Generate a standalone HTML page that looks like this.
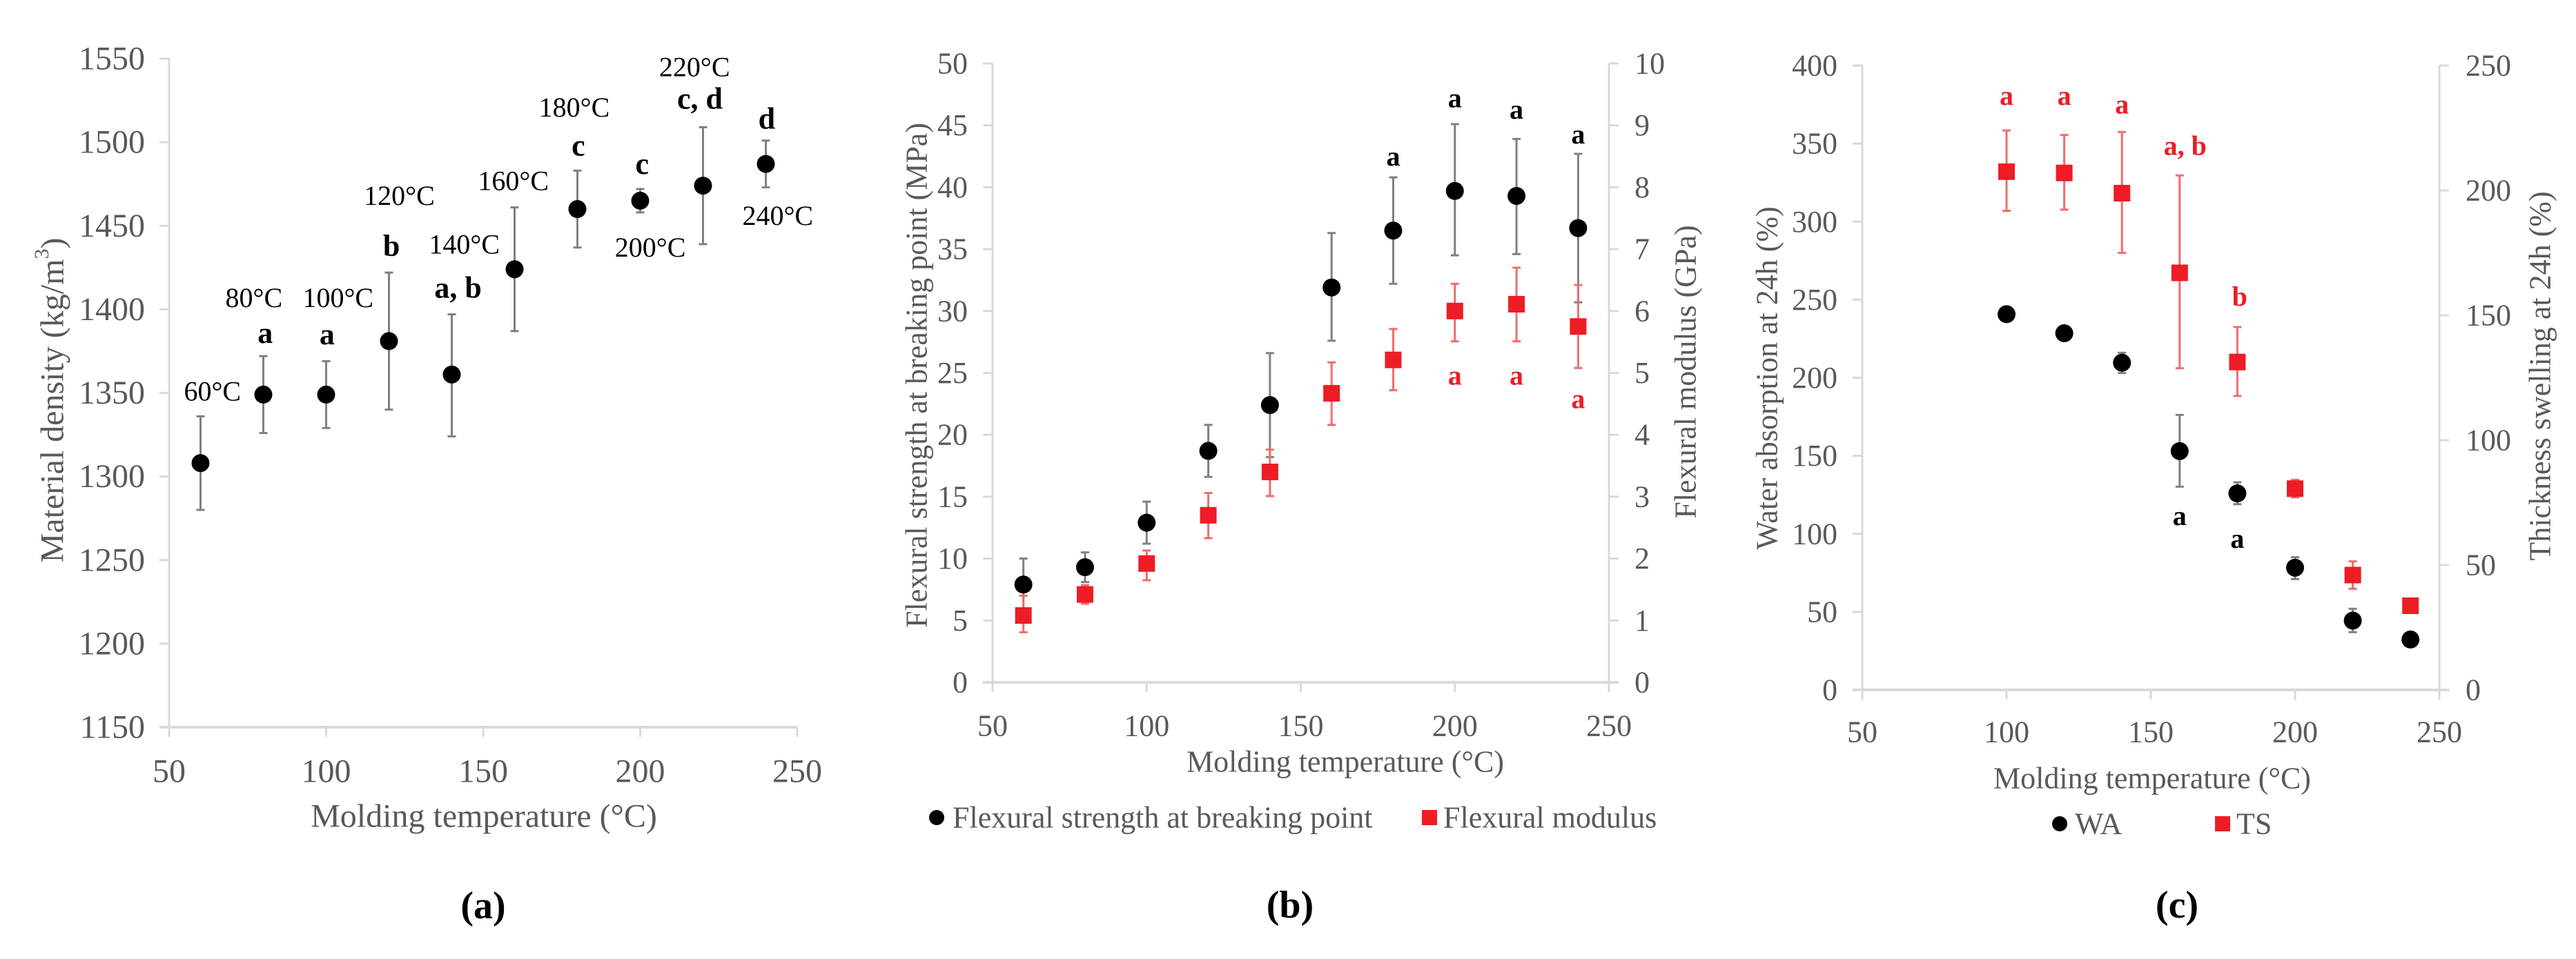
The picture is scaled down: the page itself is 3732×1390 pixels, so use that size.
<!DOCTYPE html>
<html><head><meta charset="utf-8"><style>
html,body{margin:0;padding:0;background:#fff}
svg{display:block;font-family:"Liberation Serif","Times New Roman",serif}
svg text{font-family:"Liberation Serif","Times New Roman",serif}
</style></head><body>
<svg id="fig" width="3732" height="1390" viewBox="0 0 3732 1390" font-family="Liberation Serif, serif"></svg>
<script>
// ---------- Panel (a) data ----------
const tempsA = [60,80,100,120,140,160,180,200,220,240];
const densityA = [1308,1349,1349,1381,1361,1424,1460,1465,1474,1487];
const densityHiA = [1336,1372,1369,1422,1397,1461,1483,1472,1509,1501];
const densityLoA = [1280,1326,1329,1340,1324,1387,1437,1458,1439,1473];
const annTextA = ["60°C","80°C","a","100°C","a","120°C","b","140°C","a, b","160°C","180°C","c","200°C","c","220°C","c, d","240°C","d"];
const annXA = [63.8,77,80.6,103.8,100.3,123.3,120.8,144,142,159.6,179,180.3,203.2,200.6,217.3,219,243.8,240.3];
const annYA = [1351,1407,1386,1407,1385,1468,1438,1439,1413,1477,1521,1498,1437,1487,1545,1526,1456,1514];
const xTicksA = [50,100,150,200,250];
const yTicksA = [1150,1200,1250,1300,1350,1400,1450,1500,1550];

// ---------- Panel (b) data ----------
const tempsB = [60,80,100,120,140,160,180,200,220,240];
const strengthB = [7.9,9.3,12.9,18.7,22.4,31.9,36.5,39.7,39.3,36.7];
const strengthHiB = [10.0,10.5,14.6,20.8,26.6,36.3,40.8,45.1,43.9,42.7];
const strengthLoB = [5.8,8.1,11.2,16.6,18.2,27.6,32.2,34.5,34.6,30.7];
const modulusB = [1.08,1.42,1.92,2.7,3.4,4.67,5.21,6.0,6.11,5.75];
const modulusHiB = [1.4,1.57,2.13,3.06,3.76,5.17,5.71,6.44,6.7,6.42];
const modulusLoB = [0.81,1.27,1.65,2.33,3.01,4.16,4.72,5.51,5.51,5.08];
const strengthLabelX = [180,200,220,240];
const strengthLabelY = [42.5,47.2,46.3,44.3];
const modulusLabelX = [200,220,240];
const modulusLabelY = [24.8,24.8,22.9];
const yTicksBL = [0,5,10,15,20,25,30,35,40,45,50];
const yTicksBR = [0,1,2,3,4,5,6,7,8,9,10];

// ---------- Panel (c) data ----------
const tempsC = [100,120,140,160,180,200,220,240];
const waC = [240.7,228.5,209.6,153,125.9,78.3,44.4,32.3];
const waHiC = [243,231,216,176.2,133,85,52,35];
const waLoC = [238,226,203,130.2,119,71,37,29.5];
const tsC = [207.5,207,198.9,167,131.3,80.6,46,33.7];
const tsHiC = [224,222.2,223.4,206,145.3,84.1,51.5,34.7];
const tsLoC = [191.8,192.3,175,128.8,117.7,77.1,40.5,32.7];
const tsLabelText = ["a","a","a","a, b","b"];
const tsLabelX = [100,120,140,161.9,180.8];
const tsLabelY = [238,238,234.5,218,157.6];
const waLabelText = ["a","a"];
const waLabelX = [160,180];
const waLabelY = [111.7,97];
const yTicksCL = [0,50,100,150,200,250,300,350,400];
const yTicksCR = [0,50,100,150,200,250];

const svg = document.getElementById('fig');
const NS = 'http://www.w3.org/2000/svg';
const FF = '"Liberation Serif", "Times New Roman", serif';
function mk(tag, attrs, parent){
  const e = document.createElementNS(NS, tag);
  for (const k in attrs) e.setAttribute(k, attrs[k]);
  (parent||svg).appendChild(e);
  return e;
}
function txt(s, x, y, size, fill, anchor, weight, parent){
  const t = mk('text', {x:x, y:y, 'font-size':size, fill:fill, 'text-anchor':anchor||'middle', 'dominant-baseline':'central', 'font-weight':weight||'normal'}, parent);
  t.style.fontFamily = FF;
  t.textContent = s;
  return t;
}
const AX = '#d9d9d9', TK = '#595959', RED = '#ee1c25';

function axes(g, x0, x1, y0, y1, xTicks, xs, yTicks, ys, fs, tickLabelY, leftLabelX, yTicksR, ysR, rightLabelX){
  const ya = mk('line', {x1:x0, y1:y0, x2:x0, y2:y1, stroke:AX, 'stroke-width':3}, g);
  
  
  const xa = mk('line', {x1:x0-14, y1:y0, x2:x1+ (yTicksR?14:0), y2:y0, stroke:AX, 'stroke-width':4}, g);
  
  
  xTicks.forEach(v=>{
    const X = xs(v);
    mk('line', {x1:X, y1:y0, x2:X, y2:y0+14, stroke:AX, 'stroke-width':3}, g);
    const t = txt(v, X, tickLabelY, fs, TK, 'middle', 'normal', g);
    
    
  });
  yTicks.forEach(v=>{
    const Y = ys(v);
    mk('line', {x1:x0-14, y1:Y, x2:x0, y2:Y, stroke:AX, 'stroke-width':3}, g);
    const t = txt(v, leftLabelX, Y, fs, TK, 'end', 'normal', g);
    
    
  });
  if (yTicksR){
    mk('line', {x1:x1, y1:y0, x2:x1, y2:y1, stroke:AX, 'stroke-width':3}, g);
    yTicksR.forEach(v=>{
      const Y = ysR(v);
      mk('line', {x1:x1, y1:Y, x2:x1+14, y2:Y, stroke:AX, 'stroke-width':3}, g);
      const t = txt(v, rightLabelX, Y, fs, TK, 'start', 'normal', g);
      
      
    });
  }
}
function errbar(g, X, Yhi, Ylo, color){
  mk('line', {x1:X, y1:Yhi, x2:X, y2:Ylo, stroke:color, 'stroke-width':3}, g);
  mk('line', {x1:X-6, y1:Yhi, x2:X+6, y2:Yhi, stroke:color, 'stroke-width':3}, g);
  mk('line', {x1:X-6, y1:Ylo, x2:X+6, y2:Ylo, stroke:color, 'stroke-width':3}, g);
}
function dot(g, X, Y){
  const c = mk('circle', {cx:X, cy:Y, r:13, fill:'#000'}, g);
  
  
}
function sq(g, X, Y){
  const r = mk('rect', {x:X-12, y:Y-12, width:24, height:24, fill:RED}, g);
  
  
}
function rotTitle(g, s, x, y, fs, name){
  const t = mk('text', {x:0, y:0, 'font-size':fs, fill:TK, 'text-anchor':'middle', 'dominant-baseline':'central', transform:`translate(${x},${y}) rotate(-90)`}, g);
  t.style.fontFamily = FF;
  t.textContent = s;
  
  
  return t;
}

// ===== Panel A =====
(function(){
  const g = mk('g', {});
  
  
  const x0=245, x1=1155, yB=1054, yT=85;
  const xs = v => x0 + (v-50)/200*(x1-x0);
  const ys = v => yB - (v-1150)/400*(yB-yT);
  axes(g, x0, x1, yB, yT, xTicksA, xs, yTicksA, ys, 48, 1118, 210);
  tempsA.forEach((t,i)=>{ errbar(g, xs(t), ys(densityHiA[i]), ys(densityLoA[i]), '#808080'); });
  tempsA.forEach((t,i)=>{ dot(g, xs(t), ys(densityA[i])); });
  annTextA.forEach((s,i)=>{
    const bold = !s.includes('°');
    const t = txt(s, xs(annXA[i]), ys(annYA[i]), bold?44:40, '#000', 'middle', bold?'bold':'normal', g);
    
    
  });
  const xt = txt('Molding temperature (°C)', 701, 1183, 48, TK, 'middle', 'normal', g);
  
  
  const yt = rotTitle(g, '', 76, 580, 48, 'y-axis-title');
  yt.textContent = 'Material density (kg/m';
  const sup = mk('tspan', {'font-size':30, dy:-16}, yt); sup.textContent='3';
  const cl = mk('tspan', {dy:16}, yt); cl.textContent=')';
  const cap = txt('(a)', 700, 1313, 56, '#000', 'middle', 'bold', g);
  
  
})();

// ===== Panel B =====
(function(){
  const g = mk('g', {});
  
  
  const x0=1438, x1=2331, yB=989, yT=92;
  const xs = v => x0 + (v-50)/200*(x1-x0);
  const ys = v => yB - v/50*(yB-yT);
  const ysR = v => yB - v/10*(yB-yT);
  axes(g, x0, x1, yB, yT, xTicksA, xs, yTicksBL, ys, 44, 1052, 1402, yTicksBR, ysR, 2368);
  tempsB.forEach((t,i)=>{ errbar(g, xs(t), ys(strengthHiB[i]), ys(strengthLoB[i]), '#808080'); });
  tempsB.forEach((t,i)=>{ dot(g, xs(t), ys(strengthB[i])); });
  tempsB.forEach((t,i)=>{ errbar(g, xs(t), ysR(modulusHiB[i]), ysR(modulusLoB[i]), '#f26b6b'); });
  tempsB.forEach((t,i)=>{ sq(g, xs(t), ysR(modulusB[i])); });
  strengthLabelX.forEach((x,i)=>{
    const t = txt('a', xs(x), ys(strengthLabelY[i]), 40, '#000', 'middle', 'bold', g);
    
    
  });
  modulusLabelX.forEach((x,i)=>{
    const t = txt('a', xs(x), ys(modulusLabelY[i]), 40, RED, 'middle', 'bold', g);
    
    
  });
  const xt = txt('Molding temperature (°C)', 1949, 1104, 44, TK, 'middle', 'normal', g);
  
  
  rotTitle(g, 'Flexural strength at breaking point (MPa)', 1328, 544, 44, 'y-axis-title-left');
  rotTitle(g, 'Flexural modulus (GPa)', 2442, 539, 44, 'y-axis-title-right');
  const l1 = mk('g', {}, g);
  
  
  mk('circle', {cx:1357, cy:1185, r:11, fill:'#000'}, l1);
  txt('Flexural strength at breaking point', 1380, 1185, 44, TK, 'start', 'normal', l1);
  const l2 = mk('g', {}, g);
  
  
  mk('rect', {x:2060, y:1174, width:22, height:22, fill:RED}, l2);
  txt('Flexural modulus', 2091, 1185, 44, TK, 'start', 'normal', l2);
  const cap = txt('(b)', 1869, 1312, 56, '#000', 'middle', 'bold', g);
  
  
})();

// ===== Panel C =====
(function(){
  const g = mk('g', {});
  
  
  const x0=2698, x1=3534, yB=1000, yT=95;
  const xs = v => x0 + (v-50)/200*(x1-x0);
  const ys = v => yB - v/400*(yB-yT);
  const ysR = v => yB - v/250*(yB-yT);
  axes(g, x0, x1, yB, yT, xTicksA, xs, yTicksCL, ys, 44, 1061, 2662, yTicksCR, ysR, 3572);
  tempsC.forEach((t,i)=>{ errbar(g, xs(t), ys(waHiC[i]), ys(waLoC[i]), '#808080'); });
  tempsC.forEach((t,i)=>{ dot(g, xs(t), ys(waC[i])); });
  tempsC.forEach((t,i)=>{ errbar(g, xs(t), ysR(tsHiC[i]), ysR(tsLoC[i]), '#f26b6b'); });
  tempsC.forEach((t,i)=>{ sq(g, xs(t), ysR(tsC[i])); });
  tsLabelText.forEach((s,i)=>{
    const t = txt(s, xs(tsLabelX[i]), ysR(tsLabelY[i]), 40, RED, 'middle', 'bold', g);
    
    
  });
  waLabelText.forEach((s,i)=>{
    const t = txt(s, xs(waLabelX[i]), ys(waLabelY[i]), 40, '#000', 'middle', 'bold', g);
    
    
  });
  const xt = txt('Molding temperature (°C)', 3118, 1128, 44, TK, 'middle', 'normal', g);
  
  
  rotTitle(g, 'Water absorption at 24h (%)', 2560, 548, 44, 'y-axis-title-left');
  rotTitle(g, 'Thickness swelling at 24h (%)', 3680, 545, 44, 'y-axis-title-right');
  const l1 = mk('g', {}, g);
  
  
  mk('circle', {cx:2984, cy:1194, r:11, fill:'#000'}, l1);
  txt('WA', 3006, 1194, 44, TK, 'start', 'normal', l1);
  const l2 = mk('g', {}, g);
  
  
  mk('rect', {x:3209, y:1183, width:22, height:22, fill:RED}, l2);
  txt('TS', 3240, 1194, 44, TK, 'start', 'normal', l2);
  const cap = txt('(c)', 3154, 1312, 56, '#000', 'middle', 'bold', g);
  
  
})();
</script>
</body></html>
